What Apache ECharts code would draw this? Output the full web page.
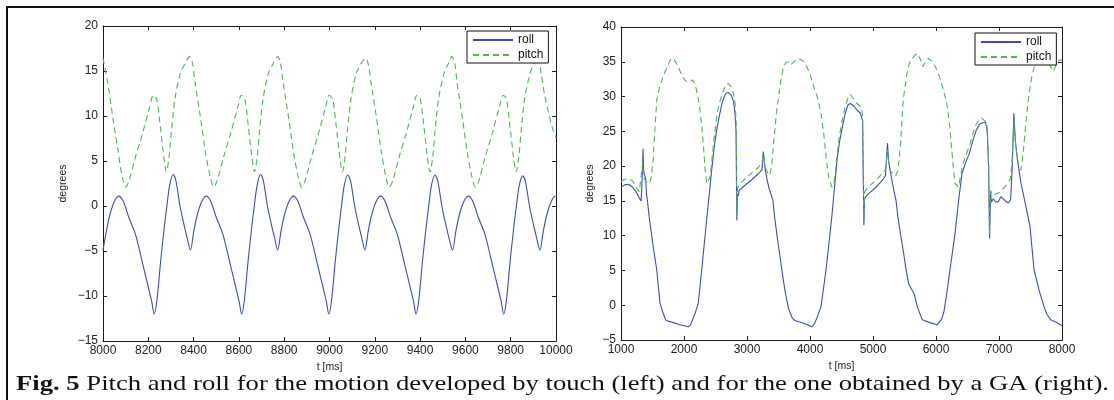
<!DOCTYPE html>
<html>
<head>
<meta charset="utf-8">
<script src="https://cdn.jsdelivr.net/npm/echarts@6/dist/echarts.min.js"></script>
<style>
html,body{margin:0;padding:0;background:#fff;}
#chart{width:1114px;height:400px;}
</style>
</head>
<body>
<div id="chart"></div>
<script>
// ---- Data ----
const seriesNames = ['roll', 'pitch'];
const xTitle = 't [ms]';
const yTitle = 'degrees';
const caption = 'Pitch and roll for the motion developed by touch (left) and for the one obtained by a GA (right).';
const captionLead = 'Fig. 5';

// Left panel: t [ms], degrees
const leftRoll = [
[8000,-4.9],[8015,-2.8],[8030,-1.0],[8050,0.5],[8070,1.1],[8090,0.5],[8113,-1.2],[8144,-3.2],[8175,-6.4],[8200,-9.0],[8215,-10.6],[8226,-12.0],[8238,-10.5],[8255,-6.0],[8270,-2.5],[8282,0.0],[8295,2.4],[8310,3.5],[8322,2.8],[8340,0.0],[8355,-1.8],[8372,-3.6],
[8386,-4.9],[8401,-2.8],[8416,-1.0],[8436,0.5],[8456,1.1],[8476,0.5],[8499,-1.2],[8530,-3.2],[8561,-6.4],[8586,-9.0],[8601,-10.6],[8612,-12.0],[8624,-10.5],[8641,-6.0],[8656,-2.5],[8668,0.0],[8681,2.4],[8696,3.5],[8708,2.8],[8726,0.0],[8741,-1.8],[8758,-3.6],
[8771,-4.9],[8786,-2.8],[8801,-1.0],[8821,0.5],[8841,1.1],[8861,0.5],[8884,-1.2],[8915,-3.2],[8946,-6.4],[8971,-9.0],[8986,-10.6],[8997,-12.0],[9009,-10.5],[9026,-6.0],[9041,-2.5],[9053,0.0],[9066,2.4],[9081,3.45],[9093,2.8],[9111,0.0],[9126,-1.8],[9143,-3.6],
[9156,-4.9],[9171,-2.8],[9186,-1.0],[9206,0.5],[9226,1.1],[9246,0.5],[9269,-1.2],[9300,-3.2],[9331,-6.4],[9356,-9.0],[9371,-10.6],[9382,-12.0],[9394,-10.5],[9411,-6.0],[9426,-2.5],[9438,0.0],[9451,2.4],[9466,3.45],[9478,2.8],[9496,0.0],[9511,-1.8],[9528,-3.6],
[9543,-4.9],[9558,-2.8],[9573,-1.0],[9593,0.5],[9613,1.1],[9633,0.5],[9656,-1.2],[9687,-3.2],[9718,-6.4],[9743,-9.0],[9758,-10.6],[9769,-12.0],[9781,-10.5],[9798,-6.0],[9813,-2.5],[9825,0.0],[9838,2.3],[9853,3.35],[9865,2.7],[9883,0.0],[9898,-1.8],[9915,-3.6],
[9929,-4.9],[9944,-2.8],[9959,-1.0],[9979,0.5],[9997,1.1],[10000,1.1]
];
const leftPitch = [
[8000,16.4],[8020,13.8],[8043,9.9],[8066,6.2],[8085,3.2],[8100,2.1],[8115,2.8],[8144,5.5],[8175,8.1],[8206,11.0],[8222,12.3],[8237,11.9],[8253,8.8],[8269,5.3],[8280,3.8],[8292,5.5],[8302,8.3],[8317,11.8],[8341,14.7],[8364,15.9],[8382,16.6],
[8394,16.0],[8407,13.6],[8430,9.9],[8452,6.0],[8474,3.2],[8489,2.1],[8504,2.8],[8533,5.5],[8564,8.1],[8595,11.0],[8611,12.3],[8626,11.9],[8642,8.8],[8658,5.3],[8669,3.8],[8681,5.5],[8691,8.3],[8706,11.8],[8730,14.7],[8753,15.9],[8771,16.6],
[8783,16.0],[8796,13.6],[8819,9.9],[8841,6.0],[8862,3.2],[8877,2.1],[8892,2.8],[8921,5.5],[8952,8.1],[8983,11.0],[8999,12.3],[9014,11.9],[9030,8.8],[9046,5.3],[9057,3.8],[9069,5.5],[9079,8.3],[9094,11.8],[9118,14.7],[9141,15.9],[9159,16.4],
[9171,15.8],[9184,13.6],[9207,9.9],[9229,6.0],[9249,3.2],[9264,2.1],[9279,2.8],[9308,5.5],[9339,8.1],[9370,11.0],[9386,12.3],[9401,11.9],[9417,8.8],[9433,5.3],[9444,3.8],[9456,5.5],[9466,8.3],[9481,11.8],[9505,14.7],[9526,15.9],[9540,16.6],
[9552,16.0],[9564,13.6],[9586,9.9],[9608,6.0],[9629,3.2],[9644,2.1],[9659,2.8],[9688,5.5],[9719,8.1],[9750,11.0],[9766,12.3],[9781,11.9],[9797,8.8],[9813,5.3],[9824,3.8],[9836,5.5],[9846,8.3],[9861,11.8],[9885,14.7],[9905,15.9],[9922,16.6],
[9935,14.6],[9950,12.3],[9965,10.6],[9987,8.4],[10000,7.6]
];

// Right panel: t [ms], degrees
const rightRoll = [
[1000,17.0],[1060,17.3],[1120,17.4],[1180,17.0],[1240,16.3],[1290,15.4],[1320,15.0],[1335,18.0],[1350,22.5],[1358,19.5],[1370,18.8],[1390,18.3],[1405,16.0],[1420,15.0],[1450,12.5],[1510,8.5],[1567,5.1],[1619,0.3],[1670,-1.2],[1714,-2.2],[1830,-2.5],[1937,-2.8],[2068,-3.1],[2100,-2.9],[2175,-1.2],[2227,0.3],[2281,5.1],[2340,10.5],[2390,15.0],[2440,19.5],[2480,22.8],[2519,25.2],[2560,27.2],[2610,29.3],[2660,30.4],[2700,30.6],[2750,30.2],[2787,29.3],[2810,27.5],[2826,25.0],[2838,12.2],[2848,16.0],[2860,15.7],[2873,16.5],[2950,17.1],[3070,18.0],[3180,18.9],[3238,19.5],[3258,22.1],[3272,21.0],[3290,19.5],[3320,18.0],[3350,16.8],[3411,15.1],[3438,12.7],[3480,9.8],[3524,7.0],[3570,4.0],[3610,1.7],[3660,-0.5],[3722,-1.9],[3760,-2.2],[3900,-2.6],[4032,-3.1],[4070,-2.7],[4119,-1.6],[4175,-0.2],[4220,2.8],[4260,5.5],[4346,12.7],[4370,15.1],[4429,20.9],[4470,23.6],[4516,25.7],[4560,27.6],[4602,28.8],[4640,29.0],[4700,28.6],[4743,28.1],[4800,27.6],[4835,26.5],[4855,11.5],[4865,15.2],[4884,15.6],[4960,16.3],[5054,17.0],[5150,18.0],[5197,18.6],[5230,23.3],[5245,21.0],[5270,19.5],[5300,18.0],[5330,16.5],[5365,15.1],[5395,12.7],[5437,10.2],[5479,7.9],[5520,5.4],[5565,3.1],[5651,1.7],[5703,-0.2],[5783,-2.1],[5900,-2.5],[6021,-2.8],[6048,-3.0],[6090,-2.0],[6127,-0.9],[6179,2.2],[6222,5.1],[6302,10.3],[6359,15.1],[6414,19.0],[6470,20.5],[6528,21.8],[6590,23.8],[6641,25.2],[6690,26.0],[6727,26.2],[6784,26.3],[6800,25.8],[6815,24.7],[6835,20.0],[6850,9.6],[6858,13.0],[6866,16.2],[6880,14.8],[6910,15.3],[6950,14.8],[6990,14.9],[7030,15.6],[7070,15.3],[7110,14.9],[7150,14.7],[7185,15.2],[7210,20.0],[7236,27.6],[7260,23.5],[7293,20.9],[7349,17.5],[7406,15.1],[7450,13.2],[7492,11.3],[7556,5.1],[7635,2.2],[7714,-0.2],[7760,-1.3],[7821,-2.1],[7900,-2.4],[7979,-2.8],[8000,-3.0]
];
const rightPitch = [
[1000,17.8],[1060,18.1],[1120,18.2],[1180,17.9],[1240,17.0],[1290,16.3],[1320,16.5],[1345,20.5],[1358,18.5],[1380,18.0],[1420,17.6],[1454,17.5],[1480,18.5],[1511,20.9],[1540,25.5],[1568,29.5],[1610,31.3],[1652,32.4],[1700,33.6],[1738,34.3],[1794,35.5],[1840,35.3],[1879,34.8],[1920,34.0],[1965,33.1],[2010,32.4],[2049,32.1],[2100,32.2],[2135,32.4],[2165,31.9],[2191,31.2],[2220,30.0],[2248,28.5],[2280,26.0],[2305,23.3],[2335,19.5],[2362,17.5],[2390,17.4],[2417,18.5],[2450,21.5],[2490,25.0],[2530,27.8],[2570,29.3],[2610,30.5],[2660,31.6],[2701,31.9],[2750,31.4],[2787,30.4],[2812,29.0],[2828,26.5],[2840,12.8],[2850,16.8],[2873,17.3],[2950,18.0],[3070,19.0],[3180,19.8],[3238,20.4],[3258,21.6],[3275,20.5],[3300,19.6],[3330,19.0],[3360,18.7],[3390,20.0],[3415,22.5],[3438,24.7],[3465,27.5],[3495,29.5],[3540,32.5],[3581,34.3],[3620,34.9],[3665,35.0],[3700,34.6],[3722,34.5],[3760,35.1],[3808,35.5],[3860,35.3],[3921,34.8],[3990,33.5],[4062,31.4],[4120,29.8],[4175,27.6],[4220,24.5],[4260,20.9],[4300,18.2],[4346,17.0],[4380,17.5],[4429,21.5],[4470,24.5],[4516,26.8],[4560,28.6],[4602,29.8],[4640,30.3],[4700,29.6],[4743,29.0],[4800,28.6],[4835,27.5],[4855,12.0],[4865,16.3],[4884,16.6],[4960,17.3],[5054,18.0],[5150,19.0],[5197,19.5],[5232,22.3],[5248,20.5],[5280,19.3],[5320,18.8],[5360,18.6],[5400,19.5],[5440,23.5],[5479,29.5],[5537,33.3],[5580,34.8],[5621,35.5],[5660,35.9],[5706,36.2],[5750,35.4],[5792,34.3],[5830,35.0],[5876,35.5],[5930,35.1],[5990,34.3],[6050,33.0],[6103,31.4],[6150,29.8],[6189,28.1],[6220,25.5],[6245,22.8],[6275,19.8],[6302,17.5],[6359,17.0],[6414,19.8],[6470,21.5],[6528,22.8],[6590,24.8],[6641,26.1],[6690,26.8],[6727,26.9],[6760,26.6],[6784,26.8],[6800,26.4],[6815,25.2],[6835,20.5],[6850,10.2],[6858,13.5],[6866,16.5],[6900,15.8],[6983,16.1],[7050,16.6],[7120,17.3],[7182,18.2],[7210,21.0],[7236,26.5],[7260,23.5],[7293,21.0],[7320,19.8],[7349,19.4],[7390,22.5],[7435,27.1],[7480,30.5],[7521,32.9],[7560,34.3],[7605,35.3],[7660,35.6],[7719,35.7],[7760,35.5],[7803,34.6],[7840,33.9],[7860,33.6],[7900,34.4],[7950,35.2],[8000,35.3]
];

// ---- Styling ----
const ROLL_COLOR = '#3a4cc0';
const PITCH_COLOR = '#50b452';
const AXIS_COLOR = '#1a1a1a';
const LABEL_FONT = '"Liberation Sans", Arial, sans-serif';

function fmt(v) { return v < 0 ? '\u2212' + (-v) : String(v); }

function xAxes(gridIndex, min, max, interval, gap) {
  const common = {
    type: 'value', gridIndex, min, max, interval,
    axisLine: { show: true, onZero: false, lineStyle: { color: AXIS_COLOR, width: 1 } },
    axisTick: { show: true, inside: true, length: 4, lineStyle: { color: AXIS_COLOR } },
    splitLine: { show: false }
  };
  return [
    Object.assign({}, common, {
      position: 'bottom',
      axisLabel: { show: true, margin: 4, color: '#222', fontSize: 12, fontFamily: LABEL_FONT, formatter: fmt, showMinLabel: true, showMaxLabel: true },
      name: xTitle, nameLocation: 'middle', nameGap: 19,
      nameTextStyle: { color: '#222', fontSize: 10.5, fontFamily: LABEL_FONT }
    }),
    Object.assign({}, common, { position: 'top', axisLabel: { show: false } })
  ];
}
function yAxes(gridIndex, min, max, interval, gap) {
  const common = {
    type: 'value', gridIndex, min, max, interval,
    axisLine: { show: true, onZero: false, lineStyle: { color: AXIS_COLOR, width: 1 } },
    axisTick: { show: true, inside: true, length: 4, lineStyle: { color: AXIS_COLOR } },
    splitLine: { show: false }
  };
  return [
    Object.assign({}, common, {
      position: 'left',
      axisLabel: { show: true, margin: 5, color: '#222', fontSize: 12, fontFamily: LABEL_FONT, formatter: fmt },
      name: yTitle, nameLocation: 'middle', nameGap: gap,
      nameTextStyle: { color: '#222', fontSize: 10.5, fontFamily: LABEL_FONT }
    }),
    Object.assign({}, common, { position: 'right', axisLabel: { show: false } })
  ];
}

function lineSeries(name, data, xi, yi, color, dashed, smooth) {
  return {
    name, type: 'line', data, xAxisIndex: xi, yAxisIndex: yi,
    symbol: 'none', showSymbol: false, smooth: smooth, animation: false,
    lineStyle: { color, width: 1.1, type: dashed ? [6, 4] : 'solid' },
    itemStyle: { color }
  };
}

function legend(left, top) {
  return {
    orient: 'vertical', left, top, data: seriesNames,
    itemWidth: 40, itemHeight: 12, itemGap: 3,
    padding: [3, 5, 2, 5],
    backgroundColor: '#fff', borderColor: '#111', borderWidth: 1,
    itemStyle: { opacity: 0 },
    textStyle: { color: '#111', fontSize: 12, fontFamily: LABEL_FONT, lineHeight: 12 },
    selectedMode: false
  };
}

const chart = echarts.init(document.getElementById('chart'), null, { renderer: 'canvas' });
chart.setOption({
  backgroundColor: '#fff',
  animation: false,
  grid: [
    { left: 103, top: 26, width: 453, height: 315 },
    { left: 621, top: 27, width: 441, height: 313 }
  ],
  xAxis: [].concat(xAxes(0, 8000, 10000, 200), xAxes(1, 1000, 8000, 1000)),
  yAxis: [].concat(yAxes(0, -15, 20, 5, 34), yAxes(1, -5, 40, 5, 25)),
  legend: [legend(467, 31), legend(975, 33)],
  series: [
    lineSeries('roll', leftRoll, 0, 0, ROLL_COLOR, false, 0.3),
    lineSeries('pitch', leftPitch, 0, 0, PITCH_COLOR, true, 0.3),
    lineSeries('roll', rightRoll, 2, 2, ROLL_COLOR, false, false),
    lineSeries('pitch', rightPitch, 2, 2, PITCH_COLOR, true, false)
  ],
  graphic: [
    { type: 'rect', silent: true, z: 100,
      shape: { x: 7, y: 7, width: 1300, height: 600 },
      style: { fill: null, stroke: '#111', lineWidth: 2 } },
    { type: 'text', silent: true, x: 16, y: 373, scaleX: 1.212, z: 100,
      style: {
        text: '{b|' + captionLead + '} ' + caption,
        font: '22px "Liberation Serif", "Times New Roman", serif',
        fill: '#111',
        rich: { b: { fontWeight: 'bold', fontSize: 22, fontFamily: '"Liberation Serif", serif', fill: '#111' } }
      } }
  ]
});
</script>
</body>
</html>
